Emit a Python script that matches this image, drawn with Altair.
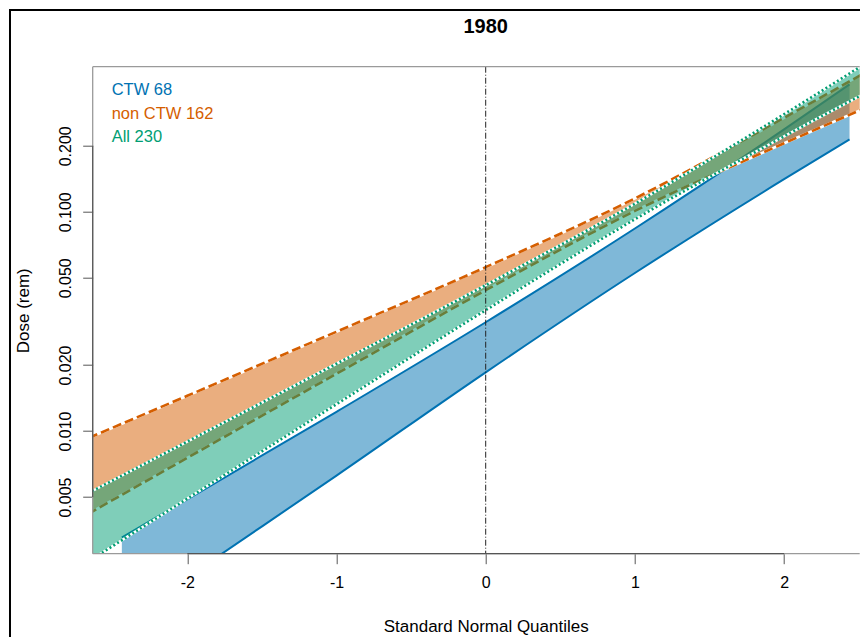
import altair as alt
import pandas as pd

# ---- data -------------------------------------------------------------------
groups = ["CTW", "non CTW", "All"]
counts = [68, 162, 230]

# standard-normal quantiles and dose (rem) of the upper / lower bound of each band
ctw_z = [-2.4386, -2.0, -1.0, 0.0, 1.0, 2.0, 2.4386]
ctw_upper = [0.003274, 0.004880, 0.01224, 0.03135, 0.08388, 0.2376, 0.3809]
ctw_lower = [0.001340, 0.002153, 0.006261, 0.01853, 0.05258, 0.1408, 0.2137]

nonctw_z = [-2.739, -2.0, -1.0, 0.0, 1.0, 2.0, 2.739]
nonctw_upper = [0.008830, 0.01448, 0.02838, 0.05590, 0.1151, 0.2681, 0.5128]
nonctw_lower = [0.003923, 0.007549, 0.01825, 0.04389, 0.1009, 0.2053, 0.3389]

all_z = [-2.852, -2.0, -1.0, 0.0, 1.0, 2.0, 2.852]
all_upper = [0.004470, 0.008953, 0.02027, 0.04627, 0.1089, 0.2787, 0.6435]
all_lower = [0.002105, 0.004916, 0.01326, 0.03557, 0.09237, 0.2208, 0.4473]

y_ticks = [0.005, 0.010, 0.020, 0.050, 0.100, 0.200]
x_ticks = [-2, -1, 0, 1, 2]
title_text = "1980"
x_title = "Standard Normal Quantiles"
y_title = "Dose (rem)"

band_z = [ctw_z, nonctw_z, all_z]
band_up = [ctw_upper, nonctw_upper, all_upper]
band_lo = [ctw_lower, nonctw_lower, all_lower]

# ---- styling ----------------------------------------------------------------
colors = ["#0072B2", "#D55E00", "#009E73"]
dashes = [None, [9, 4], [2, 2.5]]
FONT = "Liberation Sans"
W, H = 767, 487
xs = alt.Scale(domain=[-2.634, 2.5067], nice=False, zero=False)
ys = alt.Scale(type="log", domain=[0.002758, 0.4589], nice=False)

layers = []

# outer figure frame (left and top)
one = pd.DataFrame({"k": [0]})
layers.append(alt.Chart(one).mark_rule(color="black", strokeWidth=2, clip=False).encode(
    x=alt.value(-82.7), y=alt.value(-56.7), y2=alt.value(575)))
layers.append(alt.Chart(one).mark_rule(color="black", strokeWidth=2, clip=False).encode(
    x=alt.value(-83.7), x2=alt.value(W + 2), y=alt.value(-56.7)))

for i, g in enumerate(groups):
    zz = band_z[i]
    band = pd.DataFrame({"z": zz, "a": band_up[i], "b": band_lo[i]})
    lines = pd.DataFrame({"z": zz + zz,
                          "dose": band_up[i] + band_lo[i],
                          "line": ["u"] * len(zz) + ["l"] * len(zz)})
    layers.append(alt.Chart(band).mark_area(color=colors[i], opacity=0.5, clip=True,
                                            interpolate="monotone").encode(
        x=alt.X("z:Q", scale=xs), y=alt.Y("a:Q", scale=ys), y2="b:Q"))
    if dashes[i] is None:
        layers.append(alt.Chart(lines).mark_line(color=colors[i], strokeWidth=2, clip=True,
                                                 interpolate="monotone").encode(
            x=alt.X("z:Q", scale=xs), y=alt.Y("dose:Q", scale=ys), detail="line:N"))
    else:
        layers.append(alt.Chart(lines).mark_line(color="white", strokeWidth=2.6, clip=True,
                                                 interpolate="monotone").encode(
            x=alt.X("z:Q", scale=xs), y=alt.Y("dose:Q", scale=ys), detail="line:N"))
        layers.append(alt.Chart(lines).mark_line(color=colors[i], strokeWidth=2.6,
                                                 strokeDash=dashes[i], clip=True,
                                                 interpolate="monotone").encode(
            x=alt.X("z:Q", scale=xs), y=alt.Y("dose:Q", scale=ys), detail="line:N"))

# vertical dot-dash reference line at 0
zero_df = pd.DataFrame({"z": [0]})
layers.append(alt.Chart(zero_df).mark_rule(color="#222222", strokeWidth=1,
                                           strokeDash=[6, 2, 1, 2]).encode(
    x=alt.X("z:Q", scale=xs)))

# plot box (left, top, bottom)
layers.append(alt.Chart(one).mark_rule(color="#9a9a9a", strokeWidth=1.3).encode(
    x=alt.value(0), y=alt.value(0), y2=alt.value(H)))
layers.append(alt.Chart(one).mark_rule(color="#9a9a9a", strokeWidth=1.3).encode(
    x=alt.value(0), x2=alt.value(W), y=alt.value(0)))
layers.append(alt.Chart(one).mark_rule(color="#9a9a9a", strokeWidth=1.3).encode(
    x=alt.value(0), x2=alt.value(W), y=alt.value(H)))
# axis lines over tick range
ax_y = pd.DataFrame({"lo": [min(y_ticks)], "hi": [max(y_ticks)]})
layers.append(alt.Chart(ax_y).mark_rule(color="#555555", strokeWidth=1.2).encode(
    x=alt.value(0), y=alt.Y("lo:Q", scale=ys), y2="hi:Q"))
ax_x = pd.DataFrame({"lo": [min(x_ticks)], "hi": [max(x_ticks)]})
layers.append(alt.Chart(ax_x).mark_rule(color="#555555", strokeWidth=1.2).encode(
    y=alt.value(H), x=alt.X("lo:Q", scale=xs), x2="hi:Q"))

# legend text
leg = pd.DataFrame({"label": [f"{g} {n}" for g, n in zip(groups, counts)]})
for i in range(3):
    layers.append(alt.Chart(leg.iloc[[i]]).mark_text(
        align="left", baseline="middle", fontSize=16.5, font=FONT, color=colors[i]).encode(
        x=alt.value(19), y=alt.value(23.5 + 23.5 * i), text="label:N"))

# title
layers.append(alt.Chart(pd.DataFrame({"t": [title_text]})).mark_text(
    align="center", baseline="middle", fontSize=20, fontWeight="bold", font=FONT,
    color="black", clip=False).encode(x=alt.value(393), y=alt.value(-39.7), text="t:N"))

# axes carrier
axes_df = pd.DataFrame({"z": [0.0], "dose": [0.05]})
axes = alt.Chart(axes_df).mark_point(opacity=0).encode(
    x=alt.X("z:Q", scale=xs, axis=alt.Axis(
        values=x_ticks, labelExpr="'' + datum.value", domain=False, grid=False,
        tickSize=10, tickColor="#555555",
        labelFontSize=16, labelFont=FONT, labelColor="black", labelPadding=11,
        title=x_title, titleFont=FONT, titleFontSize=17, titleFontWeight="normal",
        titleColor="black", titleX=393, titleY=77.7, titleBaseline="alphabetic",
        titleAnchor="middle", titleAlign="center")),
    y=alt.Y("dose:Q", scale=ys, axis=alt.Axis(
        values=y_ticks, format=".3f", domain=False, grid=False, tickSize=10, tickColor="#555555",
        labelFontSize=16, labelFont=FONT, labelColor="black", labelAngle=270,
        labelAlign="center", labelBaseline="alphabetic", labelPadding=12,
        title=y_title, titleFont=FONT, titleFontSize=17, titleFontWeight="normal",
        titleColor="black", titleAngle=270, titleX=-63.7, titleY=H / 2,
        titleBaseline="alphabetic", titleAlign="center")),
)

chart = alt.layer(axes, *layers).properties(
    width=W, height=H, autosize="none",
    padding={"left": 84.7, "top": 58.7, "right": 0, "bottom": 83.3},
    background="white",
).configure_view(stroke="transparent")

chart.save("out.html", embed_options={"renderer": "svg", "actions": False})
